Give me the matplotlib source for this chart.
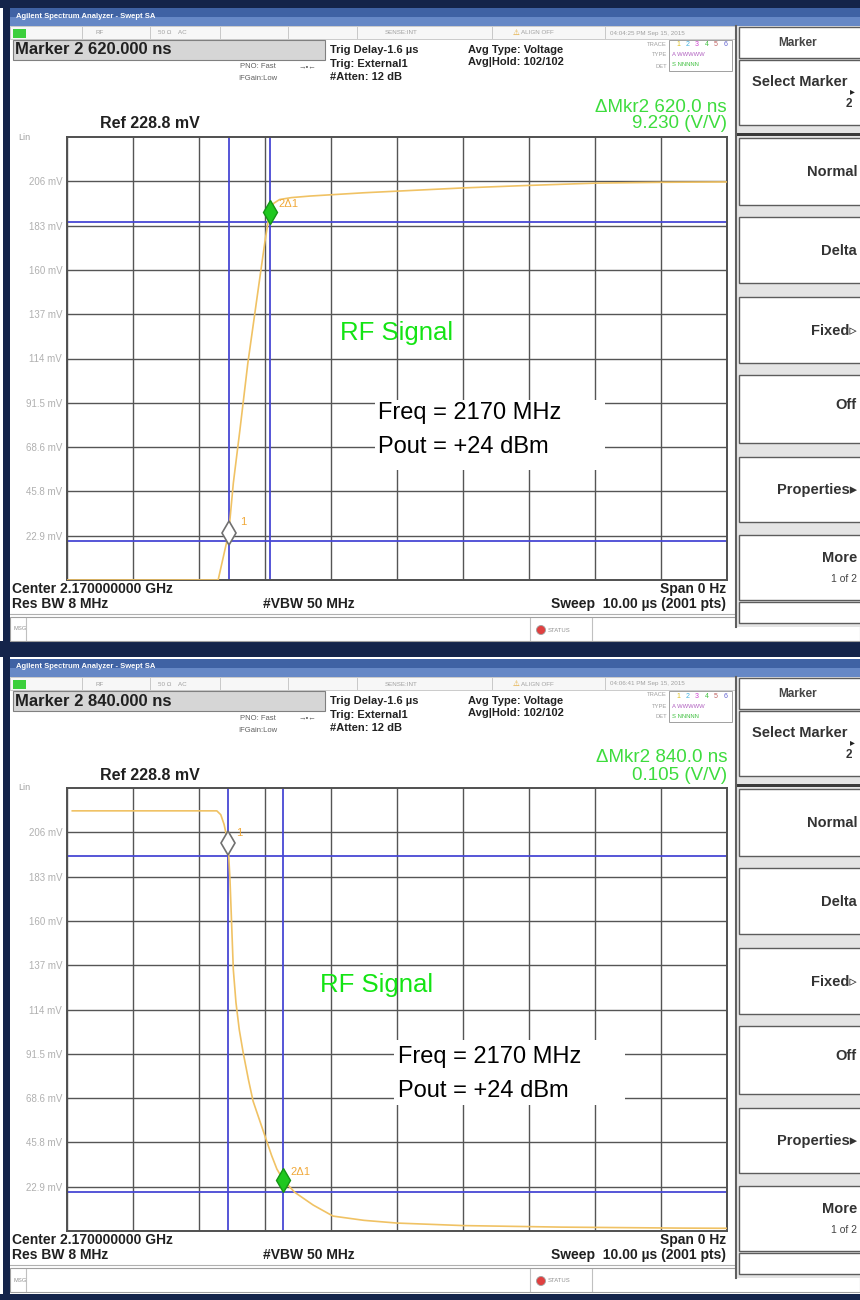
import numpy as np
import matplotlib
matplotlib.use('Agg')
import matplotlib.pyplot as plt
from matplotlib.patches import Rectangle, Circle

plt.rcParams['font.family'] = ['Liberation Sans', 'DejaVu Sans']

# ---------------- data ----------------
sweep_us = 10.0
ref_mv = 228.8
n_div = 10
y_tick_labels = ['22.9 mV', '45.8 mV', '68.6 mV', '91.5 mV', '114 mV',
                 '137 mV', '160 mV', '183 mV', '206 mV']

# rising edge (upper screen)
top_time_us = [0.0, 2.29, 2.45, 2.52, 2.62, 2.74, 2.88, 3.00, 3.07, 3.13, 3.22,
               3.40, 3.68, 4.50, 6.00, 7.00, 8.03, 9.00, 10.0]
top_mv = [0.0, 0.0, 24.3, 50.0, 77.5, 112.0, 146.0, 175.0, 190.0, 194.5, 196.5,
          197.5, 198.3, 200.0, 202.5, 203.8, 205.0, 205.4, 205.6]
top_marker_us = [2.45, 3.07]
top_marker_mv = [24.3, 190.0]
top_marker_hlines_mv = [184.9, 20.1]

# falling edge (lower screen)
bottom_time_us = [0.08, 2.27, 2.33, 2.38, 2.44, 2.47, 2.52, 2.56, 2.61, 2.67, 2.75,
                  2.82, 2.92, 3.00, 3.10, 3.18, 3.28, 3.45, 3.73, 4.03, 4.50, 5.00,
                  6.00, 7.50, 9.29, 10.0]
bottom_mv = [217.0, 217.0, 215.0, 210.0, 200.5, 181.0, 135.0, 118.0, 104.0, 92.0, 78.0,
             67.0, 57.0, 49.0, 39.0, 32.0, 26.2, 20.0, 13.4, 7.7, 5.5, 4.1,
             2.8, 2.0, 1.5, 1.4]
bottom_marker_us = [2.44, 3.28]
bottom_marker_mv = [200.5, 26.2]
bottom_marker_hlines_mv = [193.8, 20.1]

marker_readouts = ['Marker 2 620.000 ns', 'Marker 2 840.000 ns']
delta_times = ['\u0394Mkr2 620.0 ns', '\u0394Mkr2 840.0 ns']
delta_ratios = ['9.230 (V/V)', '0.105 (V/V)']
timestamps = ['04:04:25 PM Sep 15, 2015', '04:06:41 PM Sep 15, 2015']
softkey_labels = ['Normal', 'Delta', 'Fixed\u25b9', 'Off', 'Properties\u25b8', 'More']
signal_label = 'RF Signal'
info_lines = ['Freq = 2170 MHz', 'Pout = +24 dBm']

# ---------------- figure ----------------
W, H = 860, 1300
fig = plt.figure(figsize=(8.6, 13), dpi=100)
fig.patch.set_facecolor('white')
bg = fig.add_axes([0, 0, 1, 1], zorder=0)
fg = fig.add_axes([0, 0, 1, 1], zorder=10)
for a in (bg, fg):
    a.set_xlim(0, W)
    a.set_ylim(H, 0)
    a.axis('off')
fg.patch.set_alpha(0)

NAVY = '#14244a'


def rect(ax, x0, y0, x1, y1, fc, ec='none', lw=0.0, z=1):
    ax.add_patch(Rectangle((x0, y0), x1 - x0, y1 - y0, facecolor=fc,
                           edgecolor=ec, linewidth=lw, zorder=z))


def txt(ax, x, y, s, size, color='black', weight='normal', ha='left', va='center', z=5):
    ax.text(x, y, s, fontsize=size, color=color, fontweight=weight,
            ha=ha, va=va, zorder=z)


# window frame
rect(bg, 0, 0, W, 8, NAVY)
rect(bg, 0, 641, W, 657, NAVY)
rect(bg, 0, 1294, W, H, NAVY)
rect(bg, 3, 0, 10, H, NAVY, z=3)

panels = [
    dict(oy=0, t=top_time_us, v=top_mv, mt=top_marker_us, mv=top_marker_mv,
         hl=top_marker_hlines_mv, rf=(340, 333), info=(378, 413), box=(375, 400, 605, 470),
         lab1=(8, 8), lab2=(6, 6)),
    dict(oy=651, t=bottom_time_us, v=bottom_mv, mt=bottom_marker_us, mv=bottom_marker_mv,
         hl=bottom_marker_hlines_mv, rf=(320, 985), info=(398, 1057), box=(394, 1040, 625, 1105),
         lab1=(6, 7), lab2=(5, 6)),
]

for i, P in enumerate(panels):
    oy = P['oy']
    # title bar
    rect(bg, 10, oy + 8, W, oy + 17, '#3f62a4')
    rect(bg, 10, oy + 17, W, oy + 26, '#6688c6')
    txt(bg, 16, oy + 16, 'Agilent Spectrum Analyzer - Swept SA', 5.5, 'white', 'bold')

    # status row
    rect(bg, 10, oy + 26, 735, oy + 39, '#f7f7f7', '#c4c4c4', 0.6)
    for sx in [82, 150, 220, 288, 357, 492, 605]:
        bg.plot([sx, sx], [oy + 27, oy + 38], color='#c8c8c8', lw=0.7, zorder=2)
    rect(bg, 13, oy + 29, 26, oy + 38, '#3ccf3c', z=3)
    g = '#a0a0a0'
    txt(bg, 100, oy + 33, 'RF', 4.5, g, ha='center')
    txt(bg, 158, oy + 33, '50 \u03a9    AC', 4.5, g)
    txt(bg, 385, oy + 33, 'SENSE:INT', 4.5, g)
    txt(bg, 513, oy + 33, '\u26a0', 5.5, '#e0a020')
    txt(bg, 521, oy + 33, 'ALIGN OFF', 4.5, g)
    txt(bg, 610, oy + 33, timestamps[i], 4.5, g)

    # marker readout
    rect(bg, 13, oy + 40, 325, oy + 60, '#d6d6d6', '#808080', 0.8)
    txt(bg, 15, oy + 50, marker_readouts[i], 12, '#202020', 'bold')
    txt(bg, 240, oy + 67, 'PNO: Fast', 5.5, '#606060')
    txt(bg, 298, oy + 67, '\u2192\u2022\u2190', 5.5, '#606060')
    txt(bg, 238, oy + 79, 'IFGain:Low', 5.5, '#606060')
    txt(bg, 330, oy + 50, 'Trig Delay-1.6 \u00b5s', 8, '#222', 'bold')
    txt(bg, 330, oy + 64, 'Trig: External1', 8, '#222', 'bold')
    txt(bg, 330, oy + 77, '#Atten: 12 dB', 8, '#222', 'bold')
    txt(bg, 468, oy + 50, 'Avg Type: Voltage', 8, '#222', 'bold')
    txt(bg, 468, oy + 62, 'Avg|Hold: 102/102', 8, '#222', 'bold')

    # trace info box
    txt(bg, 667, oy + 44, 'TRACE', 4.2, g, ha='right')
    txt(bg, 667, oy + 55, 'TYPE', 4.2, g, ha='right')
    txt(bg, 667, oy + 66, 'DET', 4.2, g, ha='right')
    rect(bg, 669, oy + 40, 732, oy + 71, 'white', '#a0a0a0', 0.7)
    for k, c in enumerate(['#e0c020', '#40b0e0', '#d040d0', '#40c040', '#c06060', '#6060d0']):
        txt(bg, 676 + k * 9.5, oy + 45, str(k + 1), 5, c)
    txt(bg, 672, oy + 55, 'A WWWWW', 4.2, '#b060c0')
    txt(bg, 672, oy + 65, 'S NNNNN', 4.2, '#40c040')

    # delta readout
    txt(bg, 727, oy + 107, delta_times[i], 13.5, '#3ddc3d', ha='right')
    txt(bg, 727, oy + 124, delta_ratios[i], 13.5, '#3ddc3d', ha='right')
    txt(bg, 100, oy + 124, 'Ref 228.8 mV', 11.5, '#202020', 'bold')
    txt(bg, 18, oy + 137, 'Lin', 6.5, '#a0a0a0')

    # graticule
    ax = fig.add_axes([67 / W, 1 - (oy + 580) / H, 660 / W, 443 / H], zorder=5)
    ax.set_facecolor('white')
    ax.set_xlim(0, sweep_us)
    ax.set_ylim(0, ref_mv)
    ax.set_xticks(np.linspace(0, sweep_us, n_div + 1))
    ax.set_xticklabels([])
    ax.set_yticks([ref_mv * k / n_div for k in range(1, n_div)])
    ax.set_yticklabels(y_tick_labels)
    ax.tick_params(length=0, labelsize=7, labelcolor='#b0b0b0', pad=3.5)
    ax.grid(True, color='#555555', lw=1.0)
    ax.set_axisbelow(True)
    for s in ax.spines.values():
        s.set_color('#505050')
        s.set_linewidth(1.4)
    for t in P['mt']:
        ax.axvline(t, color='#4848d4', lw=1.3, zorder=2)
    for h in P['hl']:
        ax.axhline(h, color='#4848d4', lw=1.3, zorder=2)
    ax.plot(P['t'], P['v'], color='#f0c264', lw=1.2, zorder=3)
    ax.plot(P['mt'][0], P['mv'][0], marker='d', ms=12, mfc='white', mec='#707070',
            mew=1.2, zorder=6)
    ax.plot(P['mt'][1], P['mv'][1], marker='d', ms=12, mfc='#1fc81f', mec='#149414',
            mew=1.0, zorder=6)
    ax.annotate('1', (P['mt'][0], P['mv'][0]), xytext=P['lab1'], textcoords='offset points',
                color='#f0a838', fontsize=8, ha='left', va='center', zorder=7)
    ax.annotate('2\u03941', (P['mt'][1], P['mv'][1]), xytext=P['lab2'],
                textcoords='offset points', color='#f0a838', fontsize=8,
                ha='left', va='center', zorder=7)

    # footer
    txt(bg, 12, oy + 589, 'Center 2.170000000 GHz', 10, '#202020', 'bold')
    txt(bg, 12, oy + 604, 'Res BW 8 MHz', 10, '#202020', 'bold')
    txt(bg, 263, oy + 604, '#VBW 50 MHz', 10, '#202020', 'bold')
    txt(bg, 726, oy + 589, 'Span 0 Hz', 10, '#202020', 'bold', ha='right')
    txt(bg, 726, oy + 604, 'Sweep  10.00 \u00b5s (2001 pts)', 10, '#202020', 'bold', ha='right')
    bg.plot([10, 735], [oy + 614, oy + 614], color='#b0b0b0', lw=0.8, zorder=2)
    rect(bg, 10, oy + 617, W, oy + 641, 'white', '#a0a0a0', 0.8)
    for sx in [26, 530, 592]:
        bg.plot([sx, sx], [oy + 618, oy + 640], color='#c0c0c0', lw=0.8, zorder=2)
    txt(bg, 13, oy + 629, 'MSG', 4.2, '#909090')
    bg.add_patch(Circle((541, oy + 630), 4.5, facecolor='#e04040', edgecolor='#a0a0a0',
                        lw=0.6, zorder=3))
    txt(bg, 548, oy + 630, 'STATUS', 4.2, '#909090')

    # softkey panel
    rect(bg, 735, oy + 26, W, oy + 627, '#e4e4e4')
    bg.plot([736, 736], [oy + 26, oy + 627], color='#606060', lw=1.5, zorder=4)
    keys = [(27, 58), (60, 125), (138, 205), (217, 283), (297, 363), (375, 443),
            (457, 522), (535, 600), (602, 623)]
    for y0, y1 in keys:
        rect(bg, 739, oy + y0, W + 6, oy + y1, 'white', '#5c5c5c', 1.0, z=2)
    rect(bg, 737, oy + 133, W, oy + 136, '#3a3a3a', z=2)
    txt(bg, 798, oy + 43, 'Marker', 8.5, '#444', 'bold', ha='center')
    txt(bg, 848, oy + 82, 'Select Marker', 10.5, '#333', 'bold', ha='right')
    txt(bg, 850, oy + 91, '\u25b8', 7, '#222', ha='left')
    txt(bg, 852, oy + 104, '2', 8.5, '#333', 'bold', ha='right')
    ky = [172, 251, 331, 405, 490, 558]
    for lab, yy in zip(softkey_labels, ky):
        txt(bg, 857, oy + yy, lab, 10.5, '#333', 'bold', ha='right')
    txt(bg, 857, oy + 579, '1 of 2', 7.5, '#444', ha='right')

    # overlay annotations
    bx0, by0, bx1, by1 = P['box']
    rect(fg, bx0, by0, bx1, by1, 'white', z=1)
    txt(fg, P['rf'][0], P['rf'][1], signal_label, 18.5, '#14e414')
    txt(fg, P['info'][0], P['info'][1], info_lines[0], 17, 'black')
    txt(fg, P['info'][0], P['info'][1] + 34, info_lines[1], 17, 'black')

for a in (bg, fg):
    a.set_xlim(0, W)
    a.set_ylim(H, 0)

fig.savefig('out.png', dpi=100)
